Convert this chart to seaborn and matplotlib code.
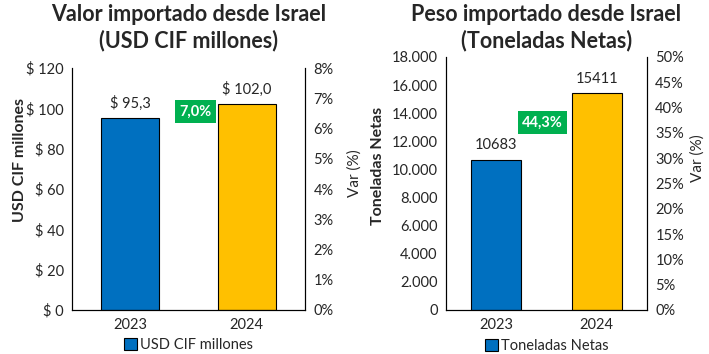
import matplotlib
matplotlib.use("Agg")
import matplotlib.pyplot as plt
import seaborn as sns
import pandas as pd
from matplotlib.ticker import FuncFormatter
from matplotlib.patches import Patch

# datos
years = ["2023", "2024"]
valor_usd = [95.3, 102.0]
peso_ton = [10683, 15411]
var_valor = "7,0%"
var_peso = "44,3%"
colores = ["#0070C0", "#FFC000"]
verde = "#00B050"

sns.set_style("white")
plt.rcParams['font.family'] = ['Lato', 'DejaVu Sans']

fig = plt.figure(figsize=(7.09, 3.54), dpi=100)


def panel(rect, valores, ylim, yticks, fmt_y, fmt_lab, y2max, y2step, ylabel,
          titulo, legend_txt, var_txt, var_pos, ylab_y, y2lab_y):
    ax = fig.add_axes(rect)
    df = pd.DataFrame({"year": years, "v": valores})
    sns.barplot(data=df, x="year", y="v", hue="year", palette=colores,
                saturation=1, width=0.5, edgecolor="black", linewidth=0.8,
                legend=False, ax=ax)
    ax.set_ylim(*ylim)
    ax.set_yticks(yticks)
    ax.yaxis.set_major_formatter(FuncFormatter(fmt_y))
    ax.set_xlabel("")
    ax.set_ylabel(ylabel, fontsize=11.5, fontweight="bold")
    ax.tick_params(axis="both", labelsize=10.5, length=0, pad=6)
    for s in ["left", "right", "bottom"]:
        ax.spines[s].set_color("black")
        ax.spines[s].set_linewidth(0.8)
    ax.spines["top"].set_visible(False)
    for p, v in zip(ax.patches, valores):
        ax.text(p.get_x() + p.get_width() / 2, p.get_height() + (ylim[1] * 0.03),
                fmt_lab(v), ha="center", va="bottom", fontsize=10.5)
    ax2 = ax.twinx()
    ax2.set_ylim(0, y2max)
    ax2.set_yticks([i * y2step for i in range(int(round(y2max / y2step)) + 1)])
    ax2.yaxis.set_major_formatter(FuncFormatter(lambda x, _: f"{x:.0f}%"))
    ax2.tick_params(axis="y", labelsize=10.5, length=0, pad=6)
    ax2.set_ylabel("Var (%)", fontsize=11)
    for s in ["left", "right", "bottom"]:
        ax2.spines[s].set_color("black")
        ax2.spines[s].set_linewidth(0.8)
    ax2.spines["top"].set_visible(False)
    ax.yaxis.set_label_coords(ylab_y[0], ylab_y[1])
    ax2.yaxis.set_label_coords(y2lab_y[0], y2lab_y[1])
    ax.text(var_pos[0], var_pos[1], var_txt, transform=ax.transAxes, ha="center",
            va="center", color="white", fontsize=10.5, fontweight="bold",
            bbox=dict(boxstyle="square,pad=0.3", facecolor=verde, edgecolor="none"))
    cx = rect[0] + rect[2] / 2
    fig.text(cx, 0.99, titulo, ha="center", va="top", fontsize=15.5,
             fontweight="bold", linespacing=1.3)
    ax.legend(handles=[Patch(facecolor=colores[0], edgecolor="black", linewidth=0.8)],
              labels=[legend_txt], loc="upper center", bbox_to_anchor=(0.5, -0.085),
              frameon=False, fontsize=10.5, handlelength=0.9, handleheight=0.9,
              handletextpad=0.2, borderpad=0)
    return ax


panel([0.1016, 0.1243, 0.3286, 0.6836], valor_usd, (0, 120), range(0, 121, 20),
      lambda x, _: f"$ {x:.0f}", lambda v: "$ " + f"{v:.1f}".replace(".", ","),
      8, 1, "USD CIF millones", "Valor importado desde Israel\n(USD CIF millones)",
      "USD CIF millones", var_valor, (0.53, 0.82), (-0.193, 0.62), (1.18, 0.566))

panel([0.629, 0.1243, 0.2835, 0.7147], peso_ton, (0, 18000), range(0, 18001, 2000),
      lambda x, _: f"{x:,.0f}".replace(",", "."), lambda v: f"{v:.0f}",
      50, 5, "Toneladas Netas", "Peso importado desde Israel\n(Toneladas Netas)",
      "Toneladas Netas", var_peso, (0.48, 0.74), (-0.303, 0.57), (1.215, 0.6))

fig.savefig("out.png", dpi=100)
